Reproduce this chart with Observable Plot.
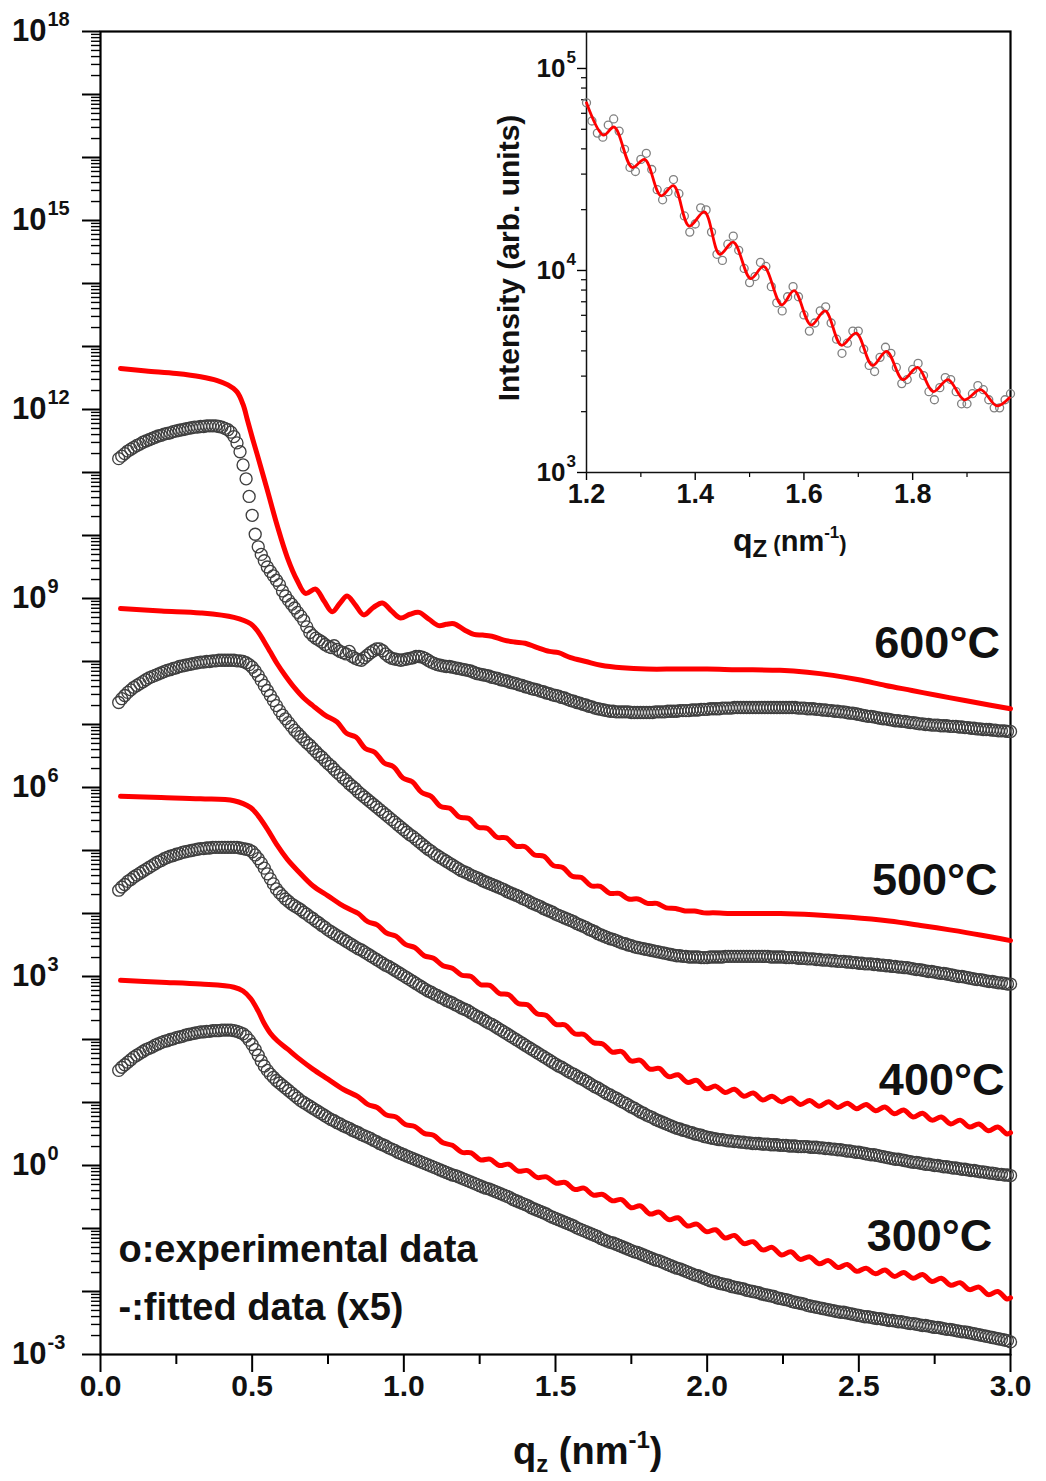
<!DOCTYPE html>
<html><head><meta charset="utf-8">
<script src="https://cdn.jsdelivr.net/npm/d3@7"></script>
<script src="https://cdn.jsdelivr.net/npm/@observablehq/plot@0.6"></script>
<style>
body{margin:0;background:#fff;}
#wrap{position:relative;width:1046px;height:1481px;}
#wrap svg{position:absolute;}
</style></head><body><div id="wrap"></div>
<script>
// ---------- DATA (log10 of intensity) ----------
const expQ0 = 0.06, expDq = 0.01;   // experimental sampling in q (nm^-1)
const exp600 = [11.22,11.26,11.30,11.34,
11.37,11.40,11.43,11.45,11.48,11.50,11.52,11.54,11.56,11.58,
11.59,11.61,11.62,11.63,11.65,11.66,11.67,11.68,11.69,11.70,
11.71,11.72,11.72,11.73,11.73,11.74,11.74,11.74,11.74,11.73,
11.72,11.70,11.68,11.64,11.57,11.47,11.33,11.12,10.90,10.62,
10.32,10.02,9.82,9.70,9.60,9.50,9.43,9.36,9.29,9.22,
9.12,9.04,8.97,8.91,8.85,8.78,8.72,8.65,8.55,8.46,
8.41,8.37,8.34,8.31,8.27,8.24,8.22,8.25,8.19,8.16,
8.14,8.12,8.16,8.08,8.05,8.03,8.02,8.06,8.10,8.14,
8.17,8.20,8.20,8.17,8.12,8.08,8.05,8.04,8.03,8.02,
8.03,8.04,8.05,8.06,8.08,8.08,8.07,8.05,8.02,7.99,
7.97,7.95,7.94,7.93,7.92,7.92,7.91,7.90,7.89,7.88,
7.87,7.86,7.85,7.83,7.81,7.80,7.79,7.78,7.77,7.75,
7.74,7.73,7.71,7.70,7.69,7.67,7.66,7.65,7.63,7.62,
7.60,7.59,7.57,7.56,7.55,7.53,7.52,7.50,7.49,7.47,
7.46,7.45,7.43,7.42,7.40,7.38,7.37,7.35,7.34,7.32,
7.31,7.29,7.28,7.26,7.25,7.24,7.23,7.22,7.21,7.21,
7.20,7.20,7.20,7.20,7.20,7.19,7.19,7.19,7.19,7.19,
7.19,7.19,7.19,7.20,7.20,7.20,7.20,7.21,7.21,7.21,
7.21,7.22,7.22,7.22,7.22,7.23,7.23,7.23,7.24,7.24,
7.24,7.25,7.25,7.25,7.25,7.26,7.26,7.26,7.26,7.27,
7.27,7.27,7.27,7.27,7.27,7.27,7.27,7.27,7.27,7.27,
7.27,7.27,7.27,7.27,7.27,7.27,7.27,7.27,7.27,7.27,
7.26,7.26,7.26,7.25,7.25,7.25,7.24,7.24,7.23,7.23,
7.22,7.22,7.21,7.21,7.20,7.20,7.19,7.18,7.18,7.17,
7.16,7.15,7.14,7.13,7.13,7.12,7.11,7.10,7.09,7.09,
7.08,7.07,7.06,7.06,7.05,7.05,7.04,7.03,7.03,7.02,
7.01,7.01,7.00,7.00,6.99,6.99,6.99,6.98,6.98,6.98,
6.97,6.97,6.97,6.96,6.96,6.95,6.95,6.94,6.94,6.93,
6.93,6.92,6.92,6.92,6.91,6.91,6.90,6.90,6.90,6.89,
6.89];
const exp500 = [7.35,7.41,7.46,7.51,
7.55,7.59,7.62,7.65,7.68,7.71,7.74,7.76,7.78,7.80,
7.82,7.84,7.86,7.87,7.89,7.90,7.92,7.93,7.94,7.95,
7.96,7.97,7.98,7.99,7.99,8.00,8.00,8.01,8.01,8.02,
8.02,8.02,8.02,8.02,8.02,8.01,8.01,8.00,7.98,7.95,
7.91,7.85,7.78,7.70,7.62,7.54,7.46,7.38,7.30,7.22,
7.15,7.09,7.03,6.97,6.91,6.86,6.81,6.76,6.71,6.67,
6.62,6.57,6.52,6.48,6.43,6.38,6.34,6.29,6.24,6.20,
6.15,6.11,6.06,6.02,5.98,5.93,5.89,5.85,5.81,5.77,
5.73,5.69,5.65,5.61,5.57,5.53,5.49,5.45,5.41,5.37,
5.33,5.29,5.25,5.22,5.18,5.14,5.10,5.06,5.02,4.99,
4.95,4.92,4.89,4.86,4.83,4.80,4.77,4.74,4.71,4.68,
4.66,4.64,4.61,4.59,4.57,4.55,4.52,4.50,4.48,4.46,
4.44,4.42,4.40,4.38,4.35,4.33,4.31,4.29,4.27,4.24,
4.22,4.20,4.17,4.15,4.13,4.11,4.08,4.06,4.04,4.02,
3.99,3.97,3.95,3.93,3.91,3.89,3.87,3.84,3.82,3.80,
3.78,3.75,3.73,3.71,3.68,3.66,3.64,3.62,3.60,3.59,
3.57,3.55,3.53,3.52,3.50,3.49,3.47,3.46,3.45,3.44,
3.43,3.42,3.41,3.40,3.39,3.38,3.37,3.36,3.35,3.34,
3.33,3.33,3.32,3.32,3.31,3.31,3.31,3.31,3.30,3.30,
3.30,3.31,3.31,3.31,3.31,3.31,3.32,3.32,3.32,3.32,
3.32,3.32,3.32,3.32,3.32,3.32,3.32,3.32,3.32,3.32,
3.32,3.31,3.31,3.31,3.31,3.31,3.30,3.30,3.30,3.30,
3.29,3.29,3.29,3.28,3.28,3.28,3.27,3.27,3.26,3.26,
3.26,3.25,3.25,3.24,3.24,3.24,3.23,3.23,3.22,3.22,
3.21,3.21,3.20,3.20,3.20,3.19,3.19,3.18,3.18,3.17,
3.17,3.16,3.16,3.15,3.15,3.14,3.14,3.13,3.12,3.11,
3.11,3.10,3.09,3.08,3.08,3.07,3.06,3.05,3.05,3.04,
3.03,3.02,3.01,3.00,3.00,2.99,2.98,2.97,2.96,2.95,
2.95,2.94,2.93,2.92,2.92,2.91,2.90,2.90,2.89,2.88,
2.88];
const exp400 = [4.37,4.42,4.46,4.51,
4.54,4.58,4.61,4.64,4.67,4.70,4.73,4.76,4.79,4.82,
4.84,4.87,4.89,4.91,4.92,4.94,4.95,4.97,4.98,4.99,
5.00,5.01,5.02,5.03,5.03,5.04,5.04,5.05,5.05,5.05,
5.05,5.05,5.05,5.05,5.05,5.05,5.04,5.03,5.02,5.01,
4.98,4.93,4.87,4.80,4.72,4.63,4.55,4.47,4.39,4.33,
4.28,4.23,4.19,4.15,4.12,4.09,4.06,4.02,3.99,3.95,
3.92,3.88,3.85,3.81,3.78,3.74,3.71,3.68,3.65,3.62,
3.59,3.56,3.53,3.50,3.47,3.44,3.42,3.39,3.36,3.33,
3.30,3.27,3.24,3.21,3.18,3.16,3.13,3.10,3.07,3.04,
3.01,2.98,2.95,2.92,2.89,2.86,2.83,2.80,2.77,2.75,
2.72,2.70,2.67,2.65,2.62,2.60,2.58,2.55,2.53,2.50,
2.48,2.46,2.43,2.40,2.37,2.35,2.32,2.29,2.26,2.24,
2.21,2.18,2.15,2.12,2.09,2.06,2.03,2.00,1.97,1.94,
1.91,1.88,1.85,1.82,1.79,1.76,1.73,1.70,1.67,1.64,
1.61,1.58,1.56,1.53,1.50,1.47,1.45,1.42,1.39,1.37,
1.34,1.31,1.28,1.25,1.23,1.20,1.17,1.14,1.12,1.09,
1.07,1.04,1.01,0.99,0.96,0.93,0.91,0.88,0.85,0.83,
0.80,0.78,0.76,0.73,0.71,0.69,0.67,0.65,0.63,0.61,
0.59,0.58,0.56,0.55,0.53,0.52,0.50,0.49,0.48,0.46,
0.45,0.44,0.43,0.42,0.41,0.41,0.40,0.39,0.39,0.38,
0.38,0.37,0.37,0.36,0.36,0.35,0.35,0.35,0.34,0.34,
0.34,0.33,0.33,0.33,0.32,0.32,0.32,0.31,0.31,0.31,
0.30,0.30,0.30,0.30,0.29,0.29,0.29,0.28,0.28,0.27,
0.27,0.26,0.26,0.25,0.25,0.24,0.23,0.23,0.22,0.21,
0.21,0.20,0.19,0.18,0.17,0.17,0.16,0.15,0.14,0.13,
0.12,0.11,0.10,0.10,0.09,0.08,0.07,0.06,0.05,0.05,
0.04,0.03,0.02,0.02,0.01,0.00,0.00,-0.01,-0.02,-0.02,
-0.03,-0.04,-0.04,-0.05,-0.06,-0.06,-0.07,-0.08,-0.08,-0.09,
-0.10,-0.10,-0.11,-0.12,-0.12,-0.13,-0.14,-0.14,-0.15,-0.15,
-0.16];
const exp300 = [1.51,1.56,1.60,1.64,
1.68,1.72,1.75,1.78,1.81,1.84,1.86,1.88,1.91,1.93,
1.95,1.97,1.98,2.00,2.01,2.03,2.04,2.05,2.07,2.08,
2.09,2.10,2.11,2.12,2.12,2.13,2.13,2.14,2.14,2.14,
2.15,2.15,2.15,2.15,2.14,2.13,2.11,2.09,2.05,1.99,
1.92,1.84,1.75,1.66,1.58,1.51,1.45,1.40,1.35,1.31,
1.27,1.23,1.19,1.15,1.11,1.07,1.03,1.00,0.97,0.94,
0.91,0.88,0.85,0.82,0.79,0.76,0.73,0.71,0.68,0.66,
0.63,0.61,0.59,0.56,0.54,0.52,0.49,0.47,0.45,0.43,
0.40,0.38,0.35,0.33,0.31,0.28,0.26,0.24,0.21,0.19,
0.17,0.15,0.13,0.11,0.09,0.07,0.05,0.03,0.01,-0.01,
-0.03,-0.05,-0.07,-0.09,-0.11,-0.13,-0.15,-0.16,-0.18,-0.20,
-0.22,-0.24,-0.26,-0.28,-0.30,-0.32,-0.34,-0.36,-0.37,-0.39,
-0.41,-0.43,-0.45,-0.47,-0.49,-0.51,-0.54,-0.56,-0.58,-0.60,
-0.62,-0.64,-0.67,-0.69,-0.71,-0.73,-0.75,-0.77,-0.80,-0.82,
-0.84,-0.86,-0.88,-0.90,-0.92,-0.94,-0.96,-0.99,-1.01,-1.03,
-1.05,-1.07,-1.09,-1.11,-1.13,-1.16,-1.18,-1.20,-1.22,-1.23,
-1.25,-1.27,-1.29,-1.31,-1.33,-1.35,-1.37,-1.38,-1.40,-1.42,
-1.44,-1.46,-1.48,-1.50,-1.51,-1.53,-1.55,-1.57,-1.59,-1.61,
-1.63,-1.64,-1.66,-1.68,-1.70,-1.72,-1.74,-1.75,-1.77,-1.79,
-1.81,-1.83,-1.84,-1.85,-1.87,-1.88,-1.89,-1.90,-1.92,-1.93,
-1.94,-1.95,-1.96,-1.98,-1.99,-2.00,-2.01,-2.02,-2.04,-2.05,
-2.06,-2.07,-2.08,-2.10,-2.11,-2.12,-2.13,-2.14,-2.16,-2.17,
-2.18,-2.19,-2.20,-2.22,-2.23,-2.24,-2.25,-2.26,-2.27,-2.28,
-2.29,-2.30,-2.31,-2.32,-2.33,-2.33,-2.34,-2.35,-2.36,-2.37,
-2.38,-2.39,-2.40,-2.40,-2.41,-2.42,-2.43,-2.43,-2.44,-2.45,
-2.46,-2.46,-2.47,-2.48,-2.48,-2.49,-2.50,-2.51,-2.51,-2.52,
-2.53,-2.54,-2.54,-2.55,-2.56,-2.57,-2.57,-2.58,-2.59,-2.60,
-2.60,-2.61,-2.62,-2.63,-2.64,-2.64,-2.65,-2.66,-2.67,-2.68,
-2.69,-2.70,-2.71,-2.72,-2.73,-2.74,-2.75,-2.76,-2.77,-2.78,
-2.80];

// fitted curves (x5): [q, log10 I]
const fit600 = [[0.066,12.65],[0.15,12.61],[0.25,12.57],[0.33,12.52],[0.385,12.46],[0.42,12.39],[0.45,12.28],[0.47,12.08],[0.484,11.84],[0.50,11.56],[0.517,11.28],[0.55,10.72],[0.583,10.15],[0.616,9.65],[0.648,9.29],[0.676,9.08],[0.709,9.15],[0.737,8.96],[0.764,8.79],[0.79,8.93],[0.813,9.04],[0.84,8.90],[0.868,8.74],[0.90,8.86],[0.929,8.93],[0.96,8.80],[0.989,8.69],[1.02,8.75],[1.05,8.78],[1.083,8.67],[1.115,8.57],[1.14,8.59],[1.165,8.60],[1.20,8.50],[1.231,8.43],[1.26,8.42],[1.29,8.40],[1.33,8.34],[1.365,8.31],[1.40,8.29],[1.44,8.22],[1.48,8.16],[1.51,8.14],[1.55,8.06],[1.60,8.00],[1.65,7.94],[1.72,7.90],[1.80,7.88],[1.90,7.88],[2.00,7.88],[2.10,7.87],[2.24,7.86],[2.33,7.83],[2.415,7.78],[2.50,7.71],[2.588,7.62],[2.675,7.54],[2.761,7.46],[2.85,7.38],[2.93,7.31],[3.0,7.25]];
const fit500 = [[0.066,8.84],[0.2,8.80],[0.33,8.77],[0.44,8.70],[0.495,8.60],[0.52,8.47],[0.538,8.33],[0.56,8.15],[0.583,7.96],[0.61,7.77],[0.64,7.58],[0.67,7.42],[0.70,7.30],[0.74,7.15],[0.780,7.04],[0.811,6.86],[0.842,6.80],[0.873,6.62],[0.904,6.56],[0.935,6.39],[0.966,6.33],[0.997,6.15],[1.028,6.09],[1.059,5.92],[1.090,5.86],[1.121,5.70],[1.152,5.67],[1.183,5.53],[1.214,5.51],[1.245,5.37],[1.276,5.35],[1.307,5.21],[1.338,5.20],[1.369,5.07],[1.400,5.06],[1.431,4.93],[1.462,4.91],[1.493,4.76],[1.524,4.73],[1.555,4.59],[1.586,4.57],[1.617,4.44],[1.648,4.43],[1.679,4.32],[1.710,4.32],[1.741,4.23],[1.772,4.23],[1.803,4.16],[1.834,4.16],[1.865,4.09],[1.896,4.08],[1.927,4.04],[1.958,4.04],[1.989,4.01],[2.020,4.01],[2.10,4.00],[2.242,4.00],[2.35,3.98],[2.473,3.94],[2.60,3.88],[2.704,3.81],[2.80,3.74],[2.90,3.66],[3.0,3.57]];
const fit400 = [[0.066,5.86],[0.2,5.84],[0.33,5.82],[0.44,5.79],[0.495,5.68],[0.52,5.55],[0.55,5.34],[0.58,5.10],[0.616,4.86],[0.65,4.68],[0.70,4.44],[0.75,4.28],[0.79,4.15],[0.82,4.07],[0.850,4.00],[0.881,3.87],[0.912,3.82],[0.943,3.69],[0.974,3.64],[1.005,3.51],[1.036,3.46],[1.067,3.33],[1.098,3.29],[1.129,3.17],[1.160,3.13],[1.191,3.02],[1.222,3.00],[1.253,2.87],[1.284,2.86],[1.315,2.73],[1.346,2.71],[1.377,2.57],[1.408,2.55],[1.439,2.41],[1.470,2.38],[1.501,2.24],[1.532,2.23],[1.563,2.09],[1.594,2.08],[1.625,1.95],[1.656,1.93],[1.687,1.80],[1.718,1.81],[1.749,1.66],[1.780,1.67],[1.811,1.53],[1.842,1.54],[1.873,1.41],[1.904,1.44],[1.935,1.32],[1.966,1.35],[1.997,1.22],[2.028,1.26],[2.059,1.16],[2.090,1.21],[2.121,1.10],[2.152,1.15],[2.183,1.04],[2.214,1.10],[2.245,1.01],[2.276,1.07],[2.307,0.97],[2.338,1.03],[2.369,0.94],[2.400,1.01],[2.431,0.92],[2.462,0.99],[2.493,0.90],[2.524,0.97],[2.555,0.87],[2.586,0.93],[2.617,0.82],[2.648,0.88],[2.679,0.77],[2.710,0.83],[2.741,0.72],[2.772,0.77],[2.803,0.66],[2.834,0.72],[2.865,0.61],[2.896,0.66],[2.927,0.55],[2.958,0.61],[2.989,0.50],[3.0,0.52]];
const fit300 = [[0.066,2.94],[0.2,2.91],[0.33,2.88],[0.44,2.83],[0.47,2.77],[0.495,2.65],[0.52,2.45],[0.538,2.27],[0.56,2.10],[0.583,1.98],[0.616,1.85],[0.648,1.72],[0.70,1.53],[0.75,1.37],[0.80,1.21],[0.850,1.09],[0.881,0.97],[0.912,0.92],[0.943,0.80],[0.974,0.77],[1.005,0.65],[1.036,0.62],[1.067,0.51],[1.098,0.48],[1.129,0.36],[1.160,0.32],[1.191,0.21],[1.222,0.20],[1.253,0.09],[1.284,0.10],[1.315,0.00],[1.346,0.02],[1.377,-0.09],[1.408,-0.08],[1.439,-0.19],[1.470,-0.18],[1.501,-0.28],[1.532,-0.27],[1.563,-0.38],[1.594,-0.36],[1.625,-0.47],[1.656,-0.46],[1.687,-0.56],[1.718,-0.54],[1.749,-0.67],[1.780,-0.64],[1.811,-0.77],[1.842,-0.74],[1.873,-0.86],[1.904,-0.83],[1.935,-0.96],[1.966,-0.93],[1.997,-1.05],[2.028,-1.02],[2.059,-1.15],[2.090,-1.11],[2.121,-1.24],[2.152,-1.21],[2.183,-1.34],[2.214,-1.30],[2.245,-1.42],[2.276,-1.37],[2.307,-1.49],[2.338,-1.45],[2.369,-1.56],[2.400,-1.51],[2.431,-1.62],[2.462,-1.57],[2.493,-1.68],[2.524,-1.63],[2.555,-1.72],[2.586,-1.66],[2.617,-1.76],[2.648,-1.70],[2.679,-1.79],[2.710,-1.73],[2.741,-1.84],[2.772,-1.79],[2.803,-1.90],[2.834,-1.86],[2.865,-1.97],[2.896,-1.93],[2.927,-2.05],[2.958,-2.00],[2.989,-2.12],[3.0,-2.10]];

// inset (600 C region 1.2 - 1.98 nm^-1)
const insetQ0 = 1.20, insetDq = 0.01;
const insetExp = [4.83,4.74,4.68,4.66,4.72,4.75,4.69,4.60,4.51,4.49,
4.55,4.58,4.50,4.40,4.35,4.39,4.45,4.38,4.27,4.19,
4.23,4.31,4.30,4.19,4.08,4.05,4.13,4.17,4.10,4.01,
3.94,3.97,4.04,4.02,3.92,3.84,3.80,3.87,3.92,3.87,
3.78,3.70,3.74,3.80,3.82,3.74,3.66,3.59,3.64,3.70,
3.70,3.61,3.53,3.50,3.57,3.62,3.59,3.52,3.44,3.46,
3.51,3.54,3.48,3.40,3.36,3.42,3.47,3.46,3.40,3.34,
3.34,3.39,3.43,3.41,3.36,3.32,3.32,3.36,3.39];
const insetFit = [[1.200,4.83],[1.231,4.67],[1.251,4.71],[1.284,4.51],[1.307,4.55],[1.337,4.37],[1.360,4.42],[1.389,4.22],[1.417,4.29],[1.445,4.08],[1.470,4.14],[1.502,3.96],[1.526,4.02],[1.559,3.83],[1.582,3.90],[1.613,3.73],[1.639,3.80],[1.669,3.63],[1.696,3.69],[1.726,3.53],[1.752,3.60],[1.782,3.46],[1.809,3.52],[1.838,3.40],[1.865,3.46],[1.895,3.36],[1.925,3.41],[1.955,3.33],[1.978,3.37]];

// labels & ticks
const tempLabels = [
  {label: "600°C", q: 2.965, v: 8.29},
  {label: "500°C", q: 2.957, v: 4.52},
  {label: "400°C", q: 2.98, v: 1.35},
  {label: "300°C", q: 2.94, v: -1.13}
];
const legendLines = ["o:experimental data", "-:fitted data (x5)"];
const xMajor = [0, 0.5, 1.0, 1.5, 2.0, 2.5, 3.0];
const xMinor = [0.25, 0.75, 1.25, 1.75, 2.25, 2.75];
const yDecades = d3.range(-3, 19);
const yLabelDecades = [-3, 0, 3, 6, 9, 12, 15, 18];
const insetXMajor = [1.2, 1.4, 1.6, 1.8];
const insetXMinor = [1.3, 1.5, 1.7, 1.9];
const insetDecades = [3, 4, 5];

// ---------- helpers ----------
const FONT = "Liberation Sans, Arial, Helvetica, sans-serif";
const sampled = (vals, q0, dq) => vals.map((v, i) => ({q: q0 + i * dq, v}));
const minorOf = (decs) => decs.flatMap(d => [2,3,4,5,6,7,8,9].map(k => k * 10 ** d));
const RED = "#ff0000";
const INK = "#111";

const expSeries = [exp600, exp500, exp400, exp300].map(a => sampled(a, expQ0, expDq));
const fitSeries = [fit600, fit500, fit400, fit300];

const mainMarks = [
  Plot.axisY({ticks: yDecades.map(d => 10 ** d), tickSize: 18, strokeWidth: 2, tickFormat: () => "", label: null}),
  Plot.axisY({ticks: minorOf(yDecades.slice(0, -1)), tickSize: 9, strokeWidth: 1.4, tickFormat: () => "", label: null}),
  Plot.axisX({ticks: xMajor, tickSize: 18, strokeWidth: 2, tickFormat: () => "", label: null}),
  Plot.axisX({ticks: xMinor, tickSize: 10, strokeWidth: 2, tickFormat: () => "", label: null}),
  Plot.frame({strokeWidth: 2.2}),
  ...expSeries.map(s => Plot.dot(s, {x: "q", y: d => 10 ** d.v, r: 6, stroke: "#3f3f3f", strokeWidth: 1.35, fill: "none"})),
  ...fitSeries.map(s => Plot.line(s, {x: d => d[0], y: d => 10 ** d[1], stroke: RED, strokeWidth: 5, curve: "catmull-rom"})),
  Plot.text(xMajor, {x: d => d, frameAnchor: "bottom", dy: 41, text: d => d.toFixed(1), fontSize: 30, fontWeight: "bold", fontFamily: FONT, fill: INK}),
  Plot.text(yLabelDecades, {y: d => 10 ** d, frameAnchor: "left", dx: -54, textAnchor: "end", text: () => "10", fontSize: 31, fontWeight: "bold", fontFamily: FONT, fill: INK}),
  Plot.text(yLabelDecades, {y: d => 10 ** d, frameAnchor: "left", dx: -53, dy: -12, textAnchor: "start", text: d => String(d), fontSize: 20, fontWeight: "bold", fontFamily: FONT, fill: INK}),
  Plot.text(tempLabels, {x: "q", y: d => 10 ** d.v, text: "label", textAnchor: "end", fontSize: 45, fontWeight: "bold", fontFamily: FONT, fill: INK}),
  Plot.text([legendLines[0]], {frameAnchor: "bottom-left", dx: 18, dy: -93, textAnchor: "start", text: d => d, fontSize: 38, fontWeight: "bold", fontFamily: FONT, fill: INK}),
  Plot.text([legendLines[1]], {frameAnchor: "bottom-left", dx: 18, dy: -35, textAnchor: "start", text: d => d, fontSize: 38, fontWeight: "bold", fontFamily: FONT, fill: INK})
];

const main = Plot.plot({
  width: 1046, height: 1481,
  marginLeft: 100, marginRight: 36, marginTop: 31, marginBottom: 127,
  x: {domain: [0, 3], axis: null},
  y: {type: "log", domain: [1e-3, 1e18], axis: null},
  style: {background: "white", fontFamily: FONT, overflow: "visible"},
  marks: mainMarks
});
main.style.left = "0px"; main.style.top = "0px";

const inset = Plot.plot({
  width: 530, height: 530,
  marginLeft: 106, marginRight: 0, marginTop: 0, marginBottom: 89,
  x: {domain: [1.2, 1.98], axis: null},
  y: {type: "log", domain: [1e3, 10 ** 5.183], axis: null},
  style: {background: "transparent", fontFamily: FONT, overflow: "visible"},
  marks: [
    Plot.axisY({ticks: insetDecades.map(d => 10 ** d), tickSize: 9, strokeWidth: 1.4, tickFormat: () => "", label: null}),
    Plot.axisY({ticks: minorOf([3, 4]), tickSize: 5, strokeWidth: 1.2, tickFormat: () => "", label: null}),
    Plot.axisX({ticks: insetXMajor, tickSize: 8, strokeWidth: 1.4, tickFormat: () => "", label: null}),
    Plot.axisX({ticks: insetXMinor, tickSize: 5, strokeWidth: 1.2, tickFormat: () => "", label: null}),
    Plot.ruleX([1.2], {stroke: INK, strokeWidth: 1.5}),
    Plot.ruleY([1e3], {stroke: INK, strokeWidth: 1.5}),
    Plot.dot(sampled(insetExp, insetQ0, insetDq), {x: "q", y: d => 10 ** d.v, r: 4, stroke: "#808080", strokeWidth: 1.3, fill: "none"}),
    Plot.line(insetFit, {x: d => d[0], y: d => 10 ** d[1], stroke: RED, strokeWidth: 2.8, curve: "catmull-rom"}),
    Plot.text(insetXMajor, {x: d => d, frameAnchor: "bottom", dy: 30, text: d => d.toFixed(1), fontSize: 27, fontWeight: "bold", fontFamily: FONT, fill: INK}),
    Plot.text(insetDecades, {y: d => 10 ** d, frameAnchor: "left", dx: -21, textAnchor: "end", text: () => "10", fontSize: 26, fontWeight: "bold", fontFamily: FONT, fill: INK}),
    Plot.text(insetDecades, {y: d => 10 ** d, frameAnchor: "left", dx: -20, dy: -11, textAnchor: "start", text: d => String(d), fontSize: 17, fontWeight: "bold", fontFamily: FONT, fill: INK})
  ]
});
inset.style.left = "480px"; inset.style.top = "31px";

const wrap = document.getElementById("wrap");
wrap.appendChild(main);
wrap.appendChild(inset);

// axis titles with sub/superscripts (real SVG text)
function richText(svg, x, y, parts) {
  const t = d3.select(svg).append("text")
    .attr("x", x).attr("y", y).attr("text-anchor", "start")
    .attr("font-family", FONT).attr("font-weight", "bold").attr("fill", INK);
  for (const p of parts) {
    const s = t.append("tspan").attr("font-size", p.size).text(p.t);
    if (p.dy) s.attr("dy", p.dy);
  }
  return t;
}
richText(main, 513, 1464, [
  {t: "q", size: 38}, {t: "z", size: 24, dy: 8}, {t: " (nm", size: 38, dy: -8},
  {t: "-1", size: 24, dy: -16}, {t: ")", size: 38, dy: 16}
]);
richText(inset, 733 - 480, 551 - 31, [
  {t: "q", size: 32}, {t: "Z", size: 24, dy: 6}, {t: " (", size: 22, dy: -6},
  {t: "nm", size: 29}, {t: "-1", size: 17, dy: -13}, {t: ")", size: 22, dy: 13}
]);
d3.select(inset).append("text")
  .attr("transform", `translate(${508 - 480},${258 - 31}) rotate(-90)`)
  .attr("text-anchor", "middle").attr("dy", "0.35em")
  .attr("font-family", FONT).attr("font-weight", "bold").attr("font-size", 30).attr("fill", INK)
  .text("Intensity (arb. units)");
</script></body></html>
